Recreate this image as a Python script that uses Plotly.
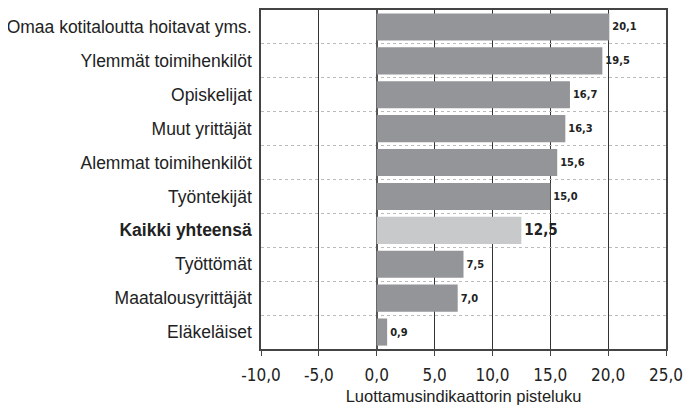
import plotly.graph_objects as go

# Ryhmät ylhäältä alas
ryhmat = [
    "Omaa kotitaloutta hoitavat yms.",
    "Ylemmät toimihenkilöt",
    "Opiskelijat",
    "Muut yrittäjät",
    "Alemmat toimihenkilöt",
    "Työntekijät",
    "Kaikki yhteensä",
    "Työttömät",
    "Maatalousyrittäjät",
    "Eläkeläiset",
]
pisteet = [20.1, 19.5, 16.7, 16.3, 15.6, 15.0, 12.5, 7.5, 7.0, 0.9]
kaikki = "Kaikki yhteensä"

x_ticks = [-10, -5, 0, 5, 10, 15, 20, 25]
x_tekstit = ["-10,0", "-5,0", "0,0", "5,0", "10,0", "15,0", "20,0", "25,0"]

vari = ["#c8c9cb" if r == kaikki else "#939598" for r in ryhmat]
koko = [15 if r == kaikki else 11 for r in ryhmat]
nimet = ["<b>%s</b>" % r if r == kaikki else r for r in ryhmat]

narrow = "DejaVu Sans Condensed, Liberation Sans Narrow, sans-serif"
arial = "Liberation Sans, Arial, sans-serif"

fig = go.Figure(go.Bar(
    x=pisteet,
    y=ryhmat,
    orientation="h",
    marker=dict(color=vari, line=dict(width=0)),
    width=0.8,
    texttemplate="<b>%{x:.1f}</b>",
    textposition="outside",
    textfont=dict(family=narrow, size=koko, color="#222"),
    cliponaxis=False,
))

# sivun oletusmarginaali (8 px) huomioitu koossa ja marginaaleissa
fig.update_layout(
    width=687,
    height=401,
    margin=dict(l=253, r=29, t=2, b=60),
    plot_bgcolor="white",
    paper_bgcolor="white",
    separators=", ",
    showlegend=False,
    xaxis=dict(
        range=[-10, 25],
        tickmode="array",
        tickvals=x_ticks,
        ticktext=x_tekstit,
        automargin=False,
        showgrid=True,
        gridcolor="#333",
        gridwidth=1,
        zeroline=True,
        zerolinecolor="#555",
        zerolinewidth=2,
        showline=True,
        linecolor="#444",
        linewidth=1.5,
        mirror=True,
        ticks="outside",
        ticklen=5,
        tickcolor="#444",
        ticklabelstandoff=5,
        tickfont=dict(family=narrow, size=17, color="#222"),
        title=dict(text="Luottamusindikaattorin pisteluku",
                   font=dict(family=arial, size=16.5, color="#222"),
                   standoff=6),
    ),
    yaxis=dict(
        autorange="reversed",
        tickmode="array",
        tickvals=ryhmat,
        ticktext=nimet,
        tickson="boundaries",
        automargin=False,
        showgrid=True,
        gridcolor="#bbb",
        griddash="dot",
        gridwidth=1,
        showline=True,
        linecolor="#444",
        linewidth=1.5,
        mirror=True,
        ticks="",
        ticklabelstandoff=4,
        tickfont=dict(family=arial, size=17.5, color="#222"),
    ),
)

fig.write_html("out.html")
